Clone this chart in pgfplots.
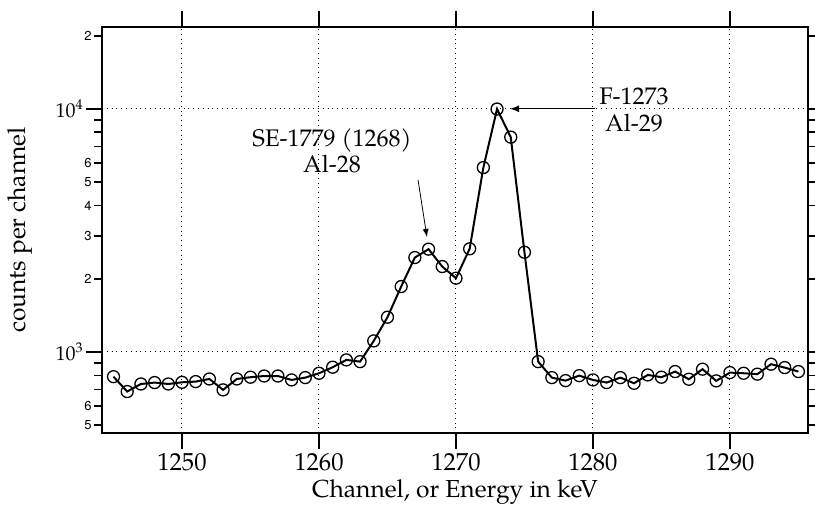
\documentclass[border=0pt]{standalone}
\usepackage{pgfplots}
\pgfplotsset{compat=1.18}
\usepackage{fontspec}
\setmainfont{TeX Gyre Pagella}
\setsansfont{TeX Gyre Heros}
\begin{document}
\begin{tikzpicture}
\path[use as bounding box] (-51pt,-37pt) rectangle (356.5pt,216.5pt);
\begin{axis}[
  at={(0pt,0pt)}, anchor=south west,
  scale only axis, width=353pt, height=203pt,
  ymode=log, log basis y=10,
  xmin=1244.16, xmax=1295.7, ymin=464, ymax=21700,
  axis line style={line width=0.9pt},
  tick align=outside, tick pos=both,
  major tick length=4pt,
  every tick/.style={black, line width=0.9pt},
  xtick=\empty,
  ytick={500,600,700,800,900,2000,3000,4000,5000,6000,7000,8000,9000,20000},
  yticklabels={5,6,,,,2,3,4,5,6,,,,2},
  minor ytick={},
  yticklabel style={font=\sffamily\fontsize{6.5}{7}\selectfont, inner sep=1pt},
  extra x ticks={1250,1260,1270,1280,1290},
  extra x tick labels={1250,1260,1270,1280,1290},
  extra y ticks={1000,10000},
  extra y tick labels={10\textsuperscript{3},10\textsuperscript{4}},
  extra x tick style={xticklabel style={font=\fontsize{12.3}{14}\selectfont, yshift=1.5pt}},
  extra y tick style={yticklabel style={font=\rmfamily\fontsize{10}{12}\selectfont}},
  extra tick style={grid=major, major tick length=8pt},
  major grid style={dotted, black, line width=0.5pt},
  /pgf/number format/assume math mode=true,
  xlabel={Channel, or Energy in keV},
  ylabel={counts per channel},
  xlabel style={font=\fontsize{12.3}{14}\selectfont, at={(axis description cs:0.5,-0.16)}, anchor=base},
  ylabel style={font=\fontsize{12.3}{14}\selectfont, at={(axis description cs:-0.116,0.5)}, anchor=center},
]
\addplot[black, line width=1pt, mark=o, mark size=3pt, mark options={line width=0.65pt, solid}] coordinates {
(1245,791) (1246,687) (1247,738) (1248,748) (1249,738) (1250,750)
(1251,755) (1252,774) (1253,698) (1254,774) (1255,787) (1256,796)
(1257,796) (1258,767) (1259,784) (1260,817) (1261,865) (1262,927)
(1263,912) (1264,1110) (1265,1389) (1266,1857) (1267,2444) (1268,2646)
(1269,2244) (1270,2010) (1271,2655) (1272,5730) (1273,9975) (1274,7646)
(1275,2570) (1276,912) (1277,784) (1278,762) (1279,799) (1280,767)
(1281,748) (1282,784) (1283,743) (1284,804) (1285,787) (1286,830)
(1287,772) (1288,849) (1289,760) (1290,822) (1291,817) (1292,810)
(1293,890) (1294,862) (1295,830)
};
\node[anchor=base, font=\fontsize{12}{14}\selectfont] at (axis cs:1260.95,6975) {SE-1779 (1268)};
\node[anchor=base, font=\fontsize{12}{14}\selectfont] at (axis cs:1260.95,5452) {Al-28};
\draw[-latex, line width=0.4pt] (axis cs:1267.23,5104) -- (axis cs:1267.88,2972);
\node[anchor=base, font=\fontsize{12}{14}\selectfont] at (axis cs:1283.0,10388) {F-1273};
\node[anchor=base, font=\fontsize{12}{14}\selectfont] at (axis cs:1283.0,8037) {Al-29};
\draw[-latex, line width=0.6pt] (axis cs:1280.15,10000) -- (axis cs:1273.94,10000);
\end{axis}
\end{tikzpicture}
\end{document}
